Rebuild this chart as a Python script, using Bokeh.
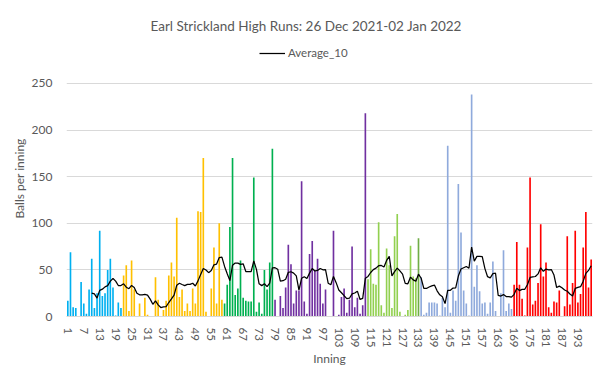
import numpy as np
from bokeh.plotting import figure
from bokeh.models import ColumnDataSource, Legend, LegendItem, FixedTicker, Range1d
from bokeh.embed import file_html
from bokeh.resources import INLINE

# ---- data ----
blue = [17, 69, 10, 9, 0, 37, 14, 3, 29, 62, 9, 25, 92, 22, 25, 50, 62, 31, 1, 15, 9]
yellow = [44, 55, 6, 60, 29, 0, 14, 0, 20, 2, 0, 0, 42, 18, 0, 7, 17, 44, 58, 43,
          106, 21, 29, 6, 14, 6, 30, 14, 113, 112, 170, 5, 0, 30, 74, 14, 100, 18]
green = [14, 34, 96, 170, 23, 30, 60, 20, 17, 16, 16, 149, 5, 15, 3, 50, 29, 58, 180]
purple = [18, 0, 22, 9, 31, 77, 56, 14, 28, 28, 145, 16, 3, 67, 81, 50, 62, 35, 14, 29,
          0, 0, 92, 0, 2, 21, 30, 4, 18, 75, 10, 20, 3, 12, 218]
lightgreen = [40, 72, 35, 34, 101, 12, 4, 73, 55, 9, 86, 110, 5, 0, 2, 7, 76, 43, 41]
darkgreen = [84]
lightblue = [42, 2, 4, 15, 15, 15, 14, 1, 20, 10, 183, 4, 28, 17, 142, 90, 28, 14, 1, 238,
             32, 55, 27, 14, 15, 3, 15, 59, 6, 0, 25, 71, 6, 14, 8]
red = [34, 80, 34, 19, 1, 74, 149, 13, 17, 36, 99, 43, 58, 10, 4, 16, 15, 28, 0, 11,
       86, 13, 36, 92, 15, 24, 74, 112, 31, 61]

groups = [(blue, "#00B0F0"), (yellow, "#FFC000"), (green, "#00B050"), (purple, "#7030A0"),
          (lightgreen, "#92D050"), (darkgreen, "#70AD47"), (lightblue, "#8FAADC"), (red, "#FF0000")]

balls = []
colors = []
for vals, col in groups:
    balls += vals
    colors += [col] * len(vals)
innings = list(range(1, len(balls) + 1))

y_ticks = [0, 50, 100, 150, 200, 250]
x_ticks = list(range(1, len(balls) + 1, 6))

# 10-inning moving average (the chart's Average_10 trendline)
arr = np.array(balls, dtype=float)
avg = np.convolve(arr, np.ones(10) / 10, mode="valid")
avg_x = innings[9:]

FONT = "Lato"
GREY = "#595959"

p = figure(width=605, height=380, output_backend="svg", toolbar_location=None,
           x_range=Range1d(0.5, len(balls) + 0.5), y_range=Range1d(0, 296),
           min_border_left=66, min_border_right=13, min_border_top=40, min_border_bottom=64)

src = ColumnDataSource(dict(x=innings, top=balls, color=colors))
p.vbar(x="x", top="top", width=0.62, color="color", source=src, line_color=None)
line = p.line(avg_x, avg, line_color="black", line_width=1.25)

p.title.text = "Earl Strickland High Runs:  26 Dec 2021-02 Jan 2022"
p.title.align = "left"
p.title.offset = 84
p.title.text_font = FONT
p.title.text_font_size = "13.5px"
p.title.text_font_style = "normal"
p.title.text_color = GREY
p.title.standoff = 14

legend = Legend(items=[LegendItem(label="Average_10", renderers=[line])],
                orientation="horizontal", location=(193, 257),
                border_line_color=None, background_fill_alpha=0,
                label_text_font=FONT, label_text_font_size="11.5px", label_text_color=GREY,
                glyph_width=26, glyph_height=12, padding=2, margin=0, label_standoff=3)
p.add_layout(legend)

p.outline_line_color = None
p.background_fill_color = "white"
p.border_fill_color = "white"

p.xgrid.grid_line_color = None
p.ygrid.grid_line_color = "#D9D9D9"
p.ygrid.ticker = FixedTicker(ticks=y_ticks)

p.yaxis.ticker = FixedTicker(ticks=y_ticks)
p.yaxis.axis_line_color = None
p.yaxis.major_tick_line_color = None
p.yaxis.minor_tick_line_color = None
p.yaxis.major_label_standoff = 8
p.yaxis.major_label_text_font = FONT
p.yaxis.major_label_text_font_size = "12px"
p.yaxis.major_label_text_color = GREY
p.yaxis.axis_label = "Balls per inning"
p.yaxis.axis_label_standoff = 2
p.yaxis.axis_label_text_font = FONT
p.yaxis.axis_label_text_font_size = "12px"
p.yaxis.axis_label_text_font_style = "normal"
p.yaxis.axis_label_text_color = GREY

p.xaxis.ticker = FixedTicker(ticks=x_ticks)
p.xaxis.axis_line_color = "#D9D9D9"
p.xaxis.major_tick_line_color = None
p.xaxis.minor_tick_line_color = None
p.xaxis.major_label_orientation = "vertical"
p.xaxis.major_label_text_font = FONT
p.xaxis.major_label_text_font_size = "11.5px"
p.xaxis.major_label_text_color = GREY
p.xaxis.axis_label = "Inning"
p.xaxis.axis_label_standoff = 0
p.xaxis.axis_label_text_font = FONT
p.xaxis.axis_label_text_font_size = "12px"
p.xaxis.axis_label_text_font_style = "normal"
p.xaxis.axis_label_text_color = GREY

open("out.html", "w").write(file_html(p, INLINE))
